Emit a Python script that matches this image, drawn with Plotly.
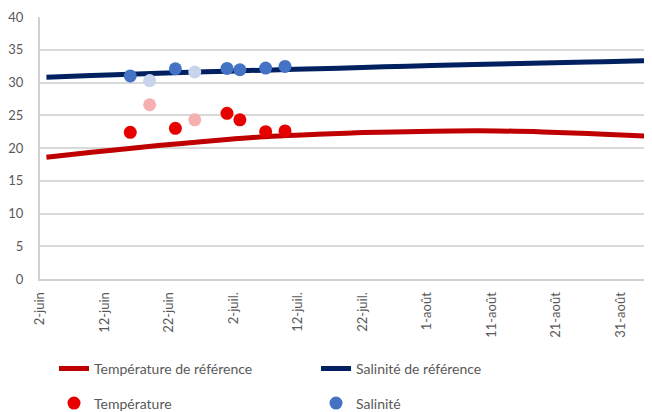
import plotly.graph_objects as go

# ---- data ----
ref_dates = ["2021-06-03", "2021-06-10", "2021-06-17", "2021-06-24", "2021-07-01",
             "2021-07-08", "2021-07-15", "2021-07-22", "2021-07-29", "2021-08-05",
             "2021-08-12", "2021-08-19", "2021-08-26", "2021-09-02", "2021-09-05"]
temp_ref = [18.6, 19.35, 20.05, 20.7, 21.3, 21.8, 22.1, 22.35, 22.5, 22.6,
            22.6, 22.45, 22.2, 21.9, 21.75]
sal_ref = [30.82, 31.07, 31.3, 31.52, 31.73, 31.92, 32.1, 32.3, 32.5, 32.68,
           32.84, 32.99, 33.13, 33.27, 33.33]

obs_dates = ["2021-06-16", "2021-06-19", "2021-06-23", "2021-06-26",
             "2021-07-01", "2021-07-03", "2021-07-07", "2021-07-10"]
temp_obs = [22.4, 26.6, 23.0, 24.3, 25.3, 24.3, 22.5, 22.6]
sal_obs = [31.0, 30.3, 32.1, 31.6, 32.15, 31.95, 32.2, 32.45]
pale = [False, True, False, True, False, False, False, False]

tick_vals = ["2021-06-02", "2021-06-12", "2021-06-22", "2021-07-02", "2021-07-12",
             "2021-07-22", "2021-08-01", "2021-08-11", "2021-08-21", "2021-08-31"]
tick_text = ["2-juin", "12-juin", "22-juin", "2-juil.", "12-juil.",
             "22-juil.", "1-août", "11-août", "21-août", "31-août"]
y_ticks = [0, 5, 10, 15, 20, 25, 30, 35, 40]

RED_REF = "#C00000"
NAVY = "#002060"
RED = "#E60000"
RED_PALE = "#F6B0B0"
BLUE = "#4472C4"
BLUE_PALE = "#C8D4EC"
FONT = "Lato"
GREY = "#595959"

fig = go.Figure()
fig.add_trace(go.Scatter(x=ref_dates, y=temp_ref, mode="lines", name="Température de référence",
                         line=dict(color=RED_REF, width=5, shape="spline"), legend="legend"))
fig.add_trace(go.Scatter(x=ref_dates, y=sal_ref, mode="lines", name="Salinité de référence",
                         line=dict(color=NAVY, width=5, shape="spline"), legend="legend"))
fig.add_trace(go.Scatter(x=obs_dates, y=temp_obs, mode="markers", name="Température",
                         marker=dict(size=13, color=[RED_PALE if p else RED for p in pale]),
                         legend="legend2"))
fig.add_trace(go.Scatter(x=obs_dates, y=sal_obs, mode="markers", name="Salinité",
                         marker=dict(size=13, color=[BLUE_PALE if p else BLUE for p in pale]),
                         legend="legend2"))

# the page body has an 8px margin, so the figure is sized to the visible window area
fig.update_layout(
    width=644, height=404,
    margin=dict(l=32, r=0, t=9, b=133, autoexpand=False),
    paper_bgcolor="white", plot_bgcolor="white",
    font=dict(family=FONT, color=GREY, size=13),
    xaxis=dict(type="date", range=["2021-06-02", "2021-09-04 22:00"], automargin=False,
               tickvals=tick_vals, ticktext=tick_text, tickangle=-90,
               showgrid=False, showline=True, linecolor="#D0D0D0", linewidth=2,
               ticks="", ticklabelstandoff=6, tickfont=dict(size=13, color=GREY),
               zeroline=False),
    yaxis=dict(range=[0, 40], tickvals=y_ticks, showgrid=True, gridcolor="#D9D9D9",
               gridwidth=1.5, showline=True, linecolor="#D0D0D0", linewidth=2,
               ticks="", ticklabelstandoff=12, tickfont=dict(size=13, color=GREY),
               zeroline=False, automargin=False),
    legend=dict(orientation="h", x=0.0229, xanchor="left", y=-0.343, yanchor="middle",
                entrywidth=217, font=dict(size=14, color=GREY, family=FONT),
                bgcolor="rgba(0,0,0,0)"),
    legend2=dict(orientation="h", x=0.0229, xanchor="left", y=-0.475, yanchor="middle",
                 entrywidth=217, font=dict(size=14, color=GREY, family=FONT),
                 bgcolor="rgba(0,0,0,0)"),
    showlegend=True,
)

fig.write_html("out.html")
